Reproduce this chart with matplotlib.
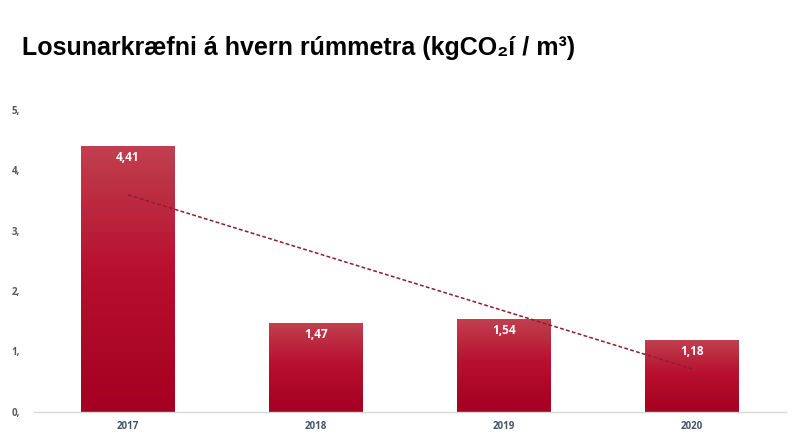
import numpy as np
import matplotlib.pyplot as plt
from matplotlib.colors import LinearSegmentedColormap

# data
years = ['2017', '2018', '2019', '2020']
values = [4.41, 1.47, 1.54, 1.18]
y_ticks = [0, 1, 2, 3, 4, 5]

title = 'Losunarkræfni á hvern rúmmetra (kgCO\u2082í / m³)'

fig = plt.figure(figsize=(8, 4.34), dpi=100)
ax = fig.add_axes([0.0425, 0.0518, 0.94, 0.6947])

x = np.arange(len(years))
bars = ax.bar(x, values, width=0.5, color='none', edgecolor='none', zorder=2)

# vertical gradient for each bar
grad = LinearSegmentedColormap.from_list(
    'bar', [(0.0, '#a50021'), (0.55, '#b8112f'), (1.0, '#c0404f')])
for b in bars:
    x0, y0 = b.get_x(), b.get_y()
    w, h = b.get_width(), b.get_height()
    img = ax.imshow(np.linspace(0, 1, 256).reshape(-1, 1), cmap=grad,
                    origin='lower', extent=[x0, x0 + w, y0, y0 + h],
                    aspect='auto', zorder=2)
    img.set_clip_path(b)
    ax.text(x0 + w / 2, y0 + h - 0.19, f'{h:.2f}'.replace('.', ','),
            ha='center', va='center', color='white', fontsize=8.5,
            fontweight='bold', family='Open Sans', zorder=4)

# linear trendline
coef = np.polyfit(x, values, 1)
ax.plot(x, np.polyval(coef, x), ls=(0, (2.5, 1.5)), color='#8c1c30',
        lw=1.1, zorder=3)

ax.set_xlim(-0.5, len(years) - 0.5)
ax.set_ylim(0, 5)
ax.set_yticks(y_ticks)
ax.set_yticklabels([f'{t},' for t in y_ticks])
ax.set_xticks(x)
ax.set_xticklabels(years)
ax.tick_params(length=0)
ax.tick_params(axis='y', pad=10, labelsize=7, labelcolor='#595959')
ax.tick_params(axis='x', pad=7, labelsize=7, labelcolor='#44546a')
for lbl in ax.get_xticklabels() + ax.get_yticklabels():
    lbl.set_fontweight('bold')
    lbl.set_family('Open Sans')
for s in ['top', 'right', 'left']:
    ax.spines[s].set_visible(False)
ax.spines['bottom'].set_color('#d9d9d9')
ax.spines['bottom'].set_linewidth(1)

fig.text(0.027, 0.889, title, ha='left', va='center', fontsize=18,
         fontweight='bold', family=['Liberation Sans', 'DejaVu Sans'])

fig.savefig('out.png', dpi=100)
